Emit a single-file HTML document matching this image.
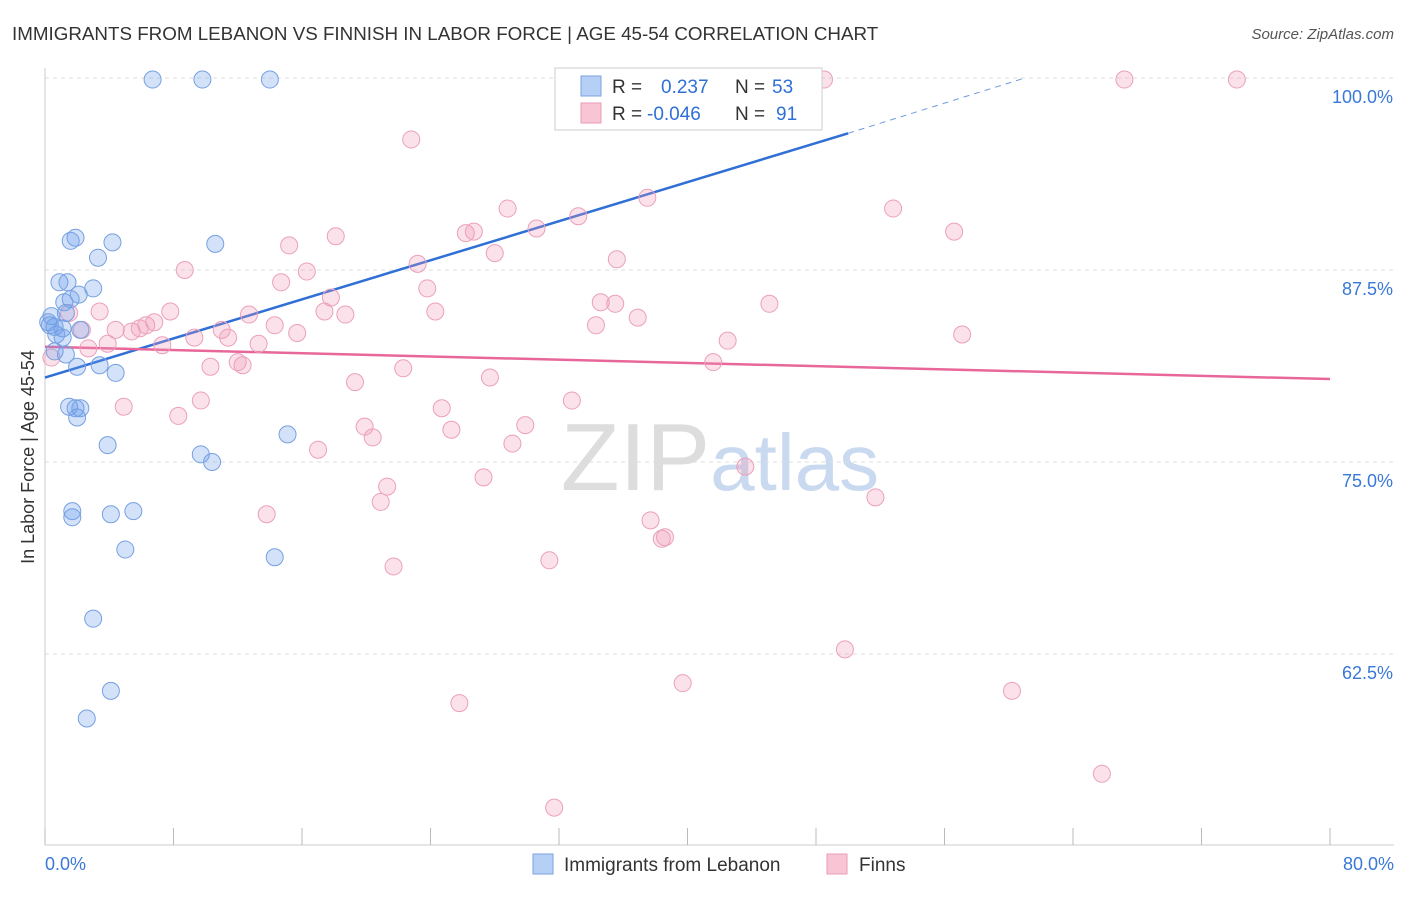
<!DOCTYPE html>
<html><head><meta charset="utf-8"><style>
body{margin:0;background:#fff;font-family:"Liberation Sans",sans-serif;}
svg text{font-family:"Liberation Sans",sans-serif;}
</style></head><body>
<svg id="chart" width="1406" height="892" xmlns="http://www.w3.org/2000/svg">
<text x="12" y="40" font-size="18.8" fill="#333">IMMIGRANTS FROM LEBANON VS FINNISH IN LABOR FORCE | AGE 45-54 CORRELATION CHART</text>
<text x="1394" y="39" font-size="15" fill="#555" text-anchor="end" font-style="italic">Source: ZipAtlas.com</text>
<text transform="translate(34,457) rotate(-90)" font-size="18" fill="#333" text-anchor="middle">In Labor Force | Age 45-54</text>
<text x="720" y="490" font-size="96" text-anchor="middle" fill="#ddd" font-family="Liberation Serif">ZIP<tspan fill="#c9d9f0" font-family="Liberation Sans" font-size="80">atlas</tspan></text>
<g id="grid"></g><g id="axes"></g><g id="trends"></g><g id="points"></g>
<g>
<rect x="555" y="68" width="267" height="62" fill="#fff" stroke="#ccc"/>
<rect x="581" y="76" width="20" height="20" fill="#b5cff5" stroke="#7aa3e0"/>
<rect x="581" y="103" width="20" height="20" fill="#f8c5d5" stroke="#e99ab5"/>
<text x="612" y="93" font-size="19" fill="#333">R =  <tspan fill="#2f6fd6" x="661">0.237</tspan><tspan x="735" fill="#333">N =</tspan><tspan x="772" fill="#2f6fd6">53</tspan></text>
<text x="612" y="120" font-size="19" fill="#333">R = <tspan fill="#2f6fd6" x="647">-0.046</tspan><tspan x="735" fill="#333">N =</tspan><tspan x="776" fill="#2f6fd6">91</tspan></text>
</g>
<g>
<rect x="533" y="854" width="20" height="20" fill="#b5cff5" stroke="#7aa3e0"/>
<text x="564" y="871" font-size="19" fill="#333">Immigrants from Lebanon</text>
<rect x="827" y="854" width="20" height="20" fill="#f8c5d5" stroke="#e99ab5"/>
<text x="859" y="871" font-size="19" fill="#333">Finns</text>
</g>
</svg>
<script>
const blueX=[6.7,9.8,14.0,42.3,1.9,1.6,4.2,10.6,3.3,0.9,1.4,3.0,2.1,1.6,1.2,1.3,0.4,0.3,0.6,1.1,2.2,0.7,1.1,0.6,1.3,3.4,2.0,4.4,1.5,1.9,2.2,2.0,3.9,9.7,10.4,15.1,1.7,1.7,4.1,5.5,5.0,14.3,3.0,4.1,2.6,0.2];
const blueY=[99.9,99.9,99.9,99.9,89.6,89.4,89.3,89.2,88.3,86.7,86.7,86.3,85.9,85.6,85.4,84.7,84.5,83.9,83.8,83.7,83.6,83.3,83.1,82.2,82.0,81.3,81.2,80.8,78.6,78.5,78.5,77.9,76.1,75.5,75.0,76.8,71.8,71.4,71.6,71.8,69.3,68.8,64.8,60.1,58.3,84.1];
const pinkX=[44.3,48.5,67.2,74.2,22.8,28.8,37.5,33.2,52.8,30.6,26.2,26.7,18.1,15.2,28.0,56.6,35.6,23.2,8.7,16.3,14.7,23.8,17.8,34.6,35.5,45.1,7.8,3.4,1.5,12.7,17.4,18.7,24.3,36.9,14.3,6.3,6.8,34.3,4.4,5.4,2.3,5.9,11.0,9.3,15.7,11.4,57.1,42.5,3.9,7.3,13.3,2.7,0.4,12.0,41.6,10.3,12.3,22.3,19.3,27.7,4.9,9.7,24.7,32.8,8.3,19.9,25.3,20.4,29.9,29.1,17.0,43.6,27.3,21.3,20.9,51.7,13.8,37.7,38.4,38.6,31.4,21.7,49.8,39.7,60.2,25.8,65.8,31.7];
const pinkY=[99.9,99.9,99.9,99.9,96.0,91.5,92.2,91.0,91.5,90.2,89.9,90.0,89.7,89.1,88.6,90.0,88.2,87.9,87.5,87.4,86.7,86.3,85.7,85.4,85.3,85.3,84.8,84.8,84.7,84.6,84.8,84.6,84.8,84.4,83.9,83.9,84.1,83.9,83.6,83.5,83.6,83.7,83.6,83.1,83.4,83.1,83.3,82.9,82.7,82.6,82.7,82.4,81.8,81.5,81.5,81.2,81.3,81.1,80.2,80.5,78.6,79.0,78.5,79.0,78.0,77.3,77.1,76.6,77.4,76.2,75.8,74.7,74.0,73.4,72.4,72.7,71.6,71.2,70.0,70.1,68.6,68.2,62.8,60.6,60.1,59.3,54.7,52.5];
const yTicks=[100,87.5,75,62.5];
const yTickLabels=["100.0%","87.5%","75.0%","62.5%"];
const xTickVals=[0,8,16,24,32,40,48,56,64,72,80];
const blueTrend=[[0,80.5],[50,96.4]];
const blueTrendDash=[[50,96.4],[61,100]];
const pinkTrend=[[0,82.5],[80,80.4]];
const NS="http://www.w3.org/2000/svg";
const X=v=>45+v*(1285/80);
const Y=v=>78+(100-v)*15.36;
function mk(tag,attrs,parent){const e=document.createElementNS(NS,tag);for(const k in attrs)e.setAttribute(k,attrs[k]);parent.appendChild(e);return e;}
const grid=document.getElementById('grid'),axes=document.getElementById('axes'),trends=document.getElementById('trends'),pts=document.getElementById('points');
yTicks.forEach((t,i)=>{
 const l=mk('line',{x1:45,x2:1394,y1:Y(t),y2:Y(t),stroke:'#ddd','stroke-dasharray':'4,4'},grid);
 
 
 const tx=mk('text',{x:1393,y:Y(t)+25,'font-size':18,fill:'#3a78d8','text-anchor':'end'},grid);
 tx.textContent=yTickLabels[i];
 
 
});
const ax=mk('line',{x1:45,x2:1394,y1:845,y2:845,stroke:'#ccc'},axes);


const ay=mk('line',{x1:45,x2:45,y1:68,y2:845,stroke:'#ccc'},axes);


xTickVals.forEach(t=>{
 const l=mk('line',{x1:X(t),x2:X(t),y1:828,y2:845,stroke:'#bbb'},axes);
 
 
});
const xl0=mk('text',{x:45,y:870,'font-size':18,fill:'#3a78d8'},axes);xl0.textContent='0.0%';


const xl1=mk('text',{x:1394,y:870,'font-size':18,fill:'#3a78d8','text-anchor':'end'},axes);xl1.textContent='80.0%';


function dot(x,y,fill,stroke,name){
 const c=mk('circle',{cx:X(x),cy:Y(y),r:8.5,fill:fill,stroke:stroke,'stroke-width':1},pts);
 
 
}
pinkX.forEach((x,i)=>dot(x,pinkY[i],'rgba(240,150,180,0.28)','#eba0bb','finns-point'));
blueX.forEach((x,i)=>dot(x,blueY[i],'rgba(110,160,235,0.3)','#76a0e2','lebanon-point'));
const bt=mk('line',{x1:X(blueTrend[0][0]),y1:Y(blueTrend[0][1]),x2:X(blueTrend[1][0]),y2:Y(blueTrend[1][1]),stroke:'#2f6fd6','stroke-width':2.5},trends);


const bd=mk('line',{x1:X(blueTrendDash[0][0]),y1:Y(blueTrendDash[0][1]),x2:X(blueTrendDash[1][0]),y2:Y(blueTrendDash[1][1]),stroke:'#6f9be0','stroke-width':1,'stroke-dasharray':'6,5'},trends);


const pt=mk('line',{x1:X(pinkTrend[0][0]),y1:Y(pinkTrend[0][1]),x2:X(pinkTrend[1][0]),y2:Y(pinkTrend[1][1]),stroke:'#e8679a','stroke-width':2.5},trends);


</script>
</body></html>
